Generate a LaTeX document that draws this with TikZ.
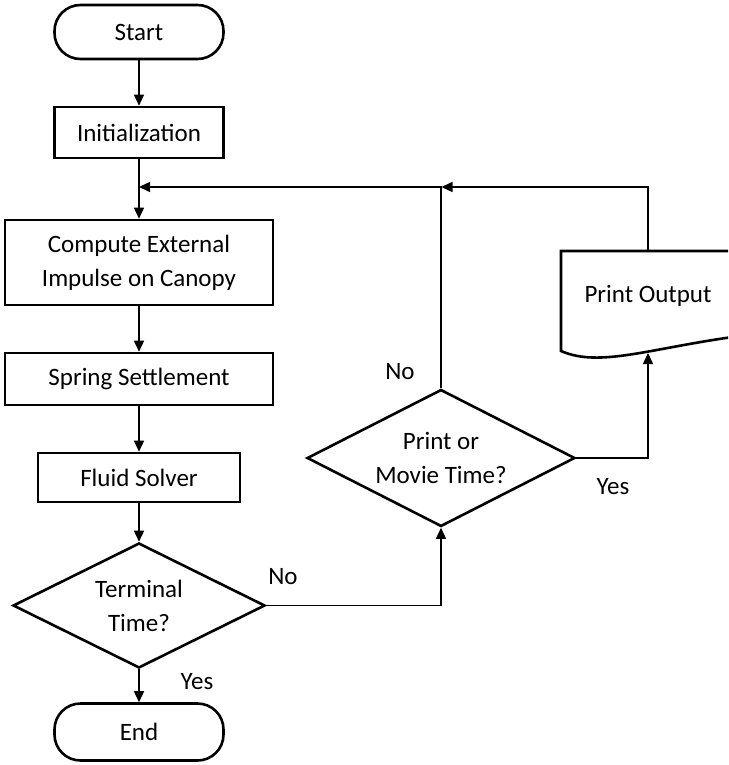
\documentclass[tikz,border=0pt]{standalone}
\usepackage{fontspec}
\setmainfont{Carlito}
\usetikzlibrary{shapes.geometric,arrows.meta}
\begin{document}
\begin{tikzpicture}[x=1pt,y=-1pt,
        font=\fontsize{25}{34}\selectfont,
        box/.style={draw,line width=2.6pt,inner sep=0pt,align=center,minimum height=51pt},
        term/.style={box,rounded corners=26pt,minimum width=169pt},
        decide/.style={draw,diamond,aspect=2,line width=2.6pt,inner sep=0pt,align=center},
        flow/.style={line width=1.5pt,-{Triangle[length=11pt,width=10pt]}}]
    \useasboundingbox (0,0) rectangle (728,765);
    \begin{scope}
    \clip (0,0) rectangle (728,765);
    % main column
    \node[term,minimum height=54pt] (start) at (139,32) {Start};
    \node[box,minimum width=169pt] (init) at (139,132.5) {Initialization};
    \node[box,minimum width=268pt,minimum height=85pt] (compute) at (139,262.5) {Compute External\\Impulse on Canopy};
    \node[box,minimum width=268pt,minimum height=52pt] (spring) at (139,379) {Spring Settlement};
    \node[box,minimum width=202pt,minimum height=49pt] (fluid) at (139,477.5) {Fluid Solver};
    \node[decide,minimum width=252pt,minimum height=125pt] (terminal) at (139,605.5) {Terminal\\Time?};
    \node[term,minimum height=57pt] (finish) at (139,732) {End};
    % output branch
    \node[decide,minimum width=268pt,minimum height=137pt] (printq) at (441,458) {Print or\\Movie Time?};
    \draw[line width=2.6pt] (760,251) -- (561,251) -- (561,351) .. controls (600,368) and (650,348) .. (740,336);
    \node (pout) at (648,296) {Print Output};
    \coordinate (join) at (139,187);
    \coordinate (merge) at (441.5,187);
    \coordinate (ptop) at (648,251);
    \coordinate (pbot) at (648,353);
    % labels
    \node (no1) at (283,577) {No};
    \node (yes1) at (197,682) {Yes};
    \node (no2) at (400,372) {No};
    \node (yes2) at (613,487) {Yes};
    % connectors
    \draw[flow] (start) -- (init);
    \draw[flow] (init) -- (compute);
    \draw[flow] (compute) -- (spring);
    \draw[flow] (spring) -- (fluid);
    \draw[flow] (fluid) -- (terminal);
    \draw[flow] (terminal) -- (finish);
    \draw[flow] (terminal.east) -| (printq.south);
    \draw[flow] (printq.north) |- (join);
    \draw[flow] (printq.east) -| (pbot);
    \draw[flow] (ptop) |- (merge);
    \end{scope}
\end{tikzpicture}
\end{document}
